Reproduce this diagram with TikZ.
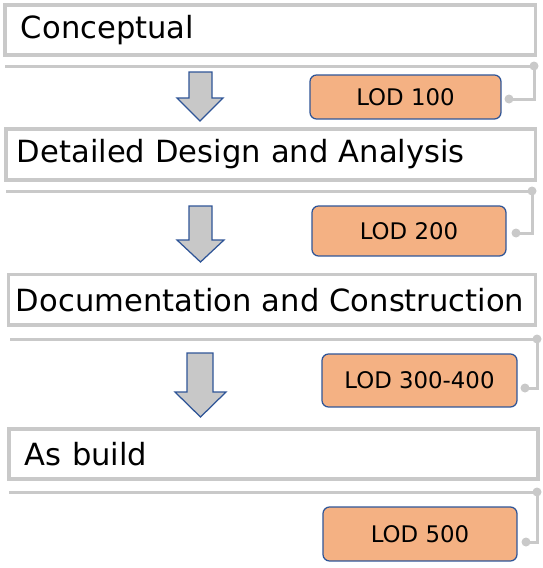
\documentclass[tikz,border=0pt]{standalone}
\usepackage{fontspec}
\setmainfont{DejaVu Sans}
\usetikzlibrary{positioning}

\definecolor{rulegray}{HTML}{C9C9C9}
\definecolor{lodfill}{HTML}{F4B183}
\definecolor{lodblue}{HTML}{2F5597}
\definecolor{arrowgray}{HTML}{C8C8C8}

\tikzset{
    stage/.style={draw=rulegray, line width=0.065cm, anchor=north west, outer sep=0pt,
        align=left, inner ysep=0pt, font=\fontsize{17.4}{20}\selectfont},
    lodbox/.style={draw=lodblue, fill=lodfill, line width=0.025cm, rounded corners=0.13cm,
        anchor=north west, outer sep=0pt, inner sep=0pt, font=\fontsize{13}{15}\selectfont},
    rule/.style={draw=rulegray, line width=0.06cm},
    dotfill/.style={fill=rulegray},
    blockarrow/.style={draw=lodblue, fill=arrowgray, line width=0.025cm, line join=miter},
}

\begin{document}
\begin{tikzpicture}[x=0.02cm, y=-0.02cm]
            \useasboundingbox (0,0) rectangle (542,568);

            % stages
            \node[stage, inner xsep=0.32cm, text width=9.97cm, minimum height=1.0cm] (concept) at (5,5) {Conceptual};
            \node[stage, inner xsep=0.22cm, text width=10.15cm, minimum height=1.02cm] (design) at (6,129) {Detailed Design and Analysis};
            \node[stage, inner xsep=0.15cm, text width=10.24cm, minimum height=1.01cm] (docs) at (8.5,274.5) {\mbox{Documentation and Construction}};
            \node[stage, inner xsep=0.32cm, text width=9.94cm, minimum height=1.0cm] (asbuild) at (9,429) {As build};

            % LOD boxes
            \node[lodbox, minimum width=3.82cm, minimum height=0.88cm] (lod100) at (310,75) {LOD 100};
            \node[lodbox, minimum width=3.88cm, minimum height=1.0cm] (lod200) at (312,206) {LOD 200};
            \node[lodbox, minimum width=3.9cm, minimum height=1.06cm] (lod300) at (322,354) {LOD 300-400};
            \node[lodbox, minimum width=3.88cm, minimum height=1.08cm] (lod500) at (323,507) {LOD 500};

            % rules under the stages
            \coordinate (rule1a) at (5,66);
            \coordinate (rule1b) at (534,66);
            \coordinate (tick1) at (509,99);
            \coordinate (rule2a) at (6,191);
            \coordinate (rule2b) at (532,191);
            \coordinate (tick2) at (516,233);
            \coordinate (rule3a) at (10,339);
            \coordinate (rule3b) at (537,339);
            \coordinate (tick3) at (525,388);
            \coordinate (rule4a) at (9,492);
            \coordinate (rule4b) at (537,492);
            \coordinate (tick4) at (526,542);

            \draw[rule] (rule1a) -- (rule1b);
            \draw[rule] (rule2a) -- (rule2b);
            \draw[rule] (rule3a) -- (rule3b);
            \draw[rule] (rule4a) -- (rule4b);

            \draw[rule] (rule1b) |- (tick1);
            \draw[rule] (rule2b) |- (tick2);
            \draw[rule] (rule3b) |- (tick3);
            \draw[rule] (rule4b) |- (tick4);

            \fill[dotfill] (rule1b) circle (0.09cm) (tick1) circle (0.09cm);
            \fill[dotfill] (rule2b) circle (0.09cm) (tick2) circle (0.09cm);
            \fill[dotfill] (rule3b) circle (0.09cm) (tick3) circle (0.09cm);
            \fill[dotfill] (rule4b) circle (0.09cm) (tick4) circle (0.09cm);

            % down arrows
            \draw[blockarrow] (189,72) -- (212,72) -- (212,98) -- (223,98) -- (200,121) -- (177,98) -- (189,98) -- cycle;
            \draw[blockarrow] (189,206) -- (212,206) -- (212,240) -- (224,240) -- (200.5,262) -- (177,240) -- (189,240) -- cycle;
            \draw[blockarrow] (187,353) -- (213,353) -- (213,392) -- (226,392) -- (200.5,417) -- (175,392) -- (187,392) -- cycle;
        \end{tikzpicture}
\end{document}
